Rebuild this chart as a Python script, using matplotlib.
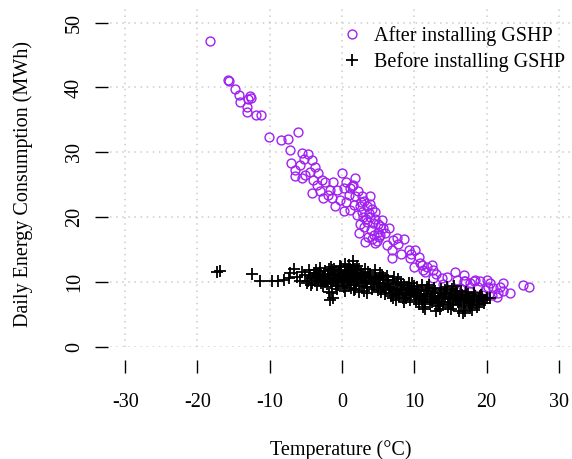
import matplotlib
matplotlib.use('Agg')
import matplotlib.pyplot as plt

plt.rcParams['font.family'] = ['Liberation Serif', 'DejaVu Serif']
plt.rcParams['axes.unicode_minus'] = False

# After installing GSHP (purple circles)
after_temp = [-18.2, -15.8, -15.6, -14.8, -14.2, -12.8, -12.6, -13.0, -14.1, -13.1,
              -13.2, -11.9, -11.2, -10.1, -8.5, -7.5, -6.1, -7.2, -5.6, -4.7,
              -4.2, -7.0, -5.8, -6.5, -5.1, -6.5, -5.6, -3.7, -3.3, -2.8,
              -4.0, -4.2, -2.4, -1.2, 0.0, 1.8, -2.6, -1.7, -0.7, 0.2,
              1.1, -1.4, -0.3, 0.6, 1.8, 2.7, 1.6, 2.5, 3.4, 1.1,
              2.0, 2.9, 3.9, 3.4, 4.3, 5.3, 5.7, 2.3, 3.6, 4.8,
              6.2, 7.1, 7.6, 8.5, 5.3, 4.6, 6.9, 6.9, 9.2, 10.1,
              9.4, 10.6, 9.9, 11.0, 11.7, 12.4, 11.5, 12.6, 12.6, 13.8,
              15.6, 15.9, 15.6, 16.8, 17.7, 18.4, 19.1, 20.0, 19.8, 16.3,
              16.8, 17.0, 18.2, 20.2, 20.9, 21.8, 22.3, 20.7, 21.6, 21.4,
              23.2, 25.0, 25.8, -3.0, -2.0, 0.5, 1.5, 2.2, 3.0, 3.8,
              4.5, 4.0, 5.0, 3.0, 2.5, 4.6, 5.5, 6.0, 3.2, -1.0,
              0.2, -4.5, -5.2, -3.5, 1.0, 2.8, 6.5, 7.8, 8.2, 9.6,
              10.8, 11.2, 13.0, 14.5, 14.0, 17.5, 18.8, 19.4, 22.2, 20.4,
              3.7, 4.1, 4.4, 3.3, 4.9, 2.6, 5.1, 4.2, 3.9, 1.4]
after_energy = [47.2, 41.2, 41.0, 39.8, 38.9, 38.7, 38.4, 38.2, 37.7, 37.0,
                36.2, 35.7, 35.7, 32.4, 31.9, 32.1, 33.2, 30.4, 29.9, 29.8,
                28.9, 28.3, 28.1, 27.3, 26.5, 26.3, 26.0, 27.8, 26.8, 25.8,
                25.8, 23.7, 25.5, 25.5, 26.8, 26.0, 22.9, 24.2, 24.2, 24.5,
                24.5, 22.9, 22.7, 22.4, 23.2, 23.2, 21.9, 21.7, 21.7, 21.1,
                20.4, 20.1, 20.1, 19.3, 19.1, 18.6, 18.3, 17.5, 17.0, 16.3,
                15.7, 16.5, 16.8, 16.6, 17.3, 16.0, 15.0, 13.7, 15.0, 15.0,
                13.7, 13.9, 12.4, 12.7, 12.4, 12.7, 11.6, 11.9, 10.6, 10.6,
                11.6, 10.3, 8.8, 10.1, 9.8, 10.3, 10.1, 10.3, 8.8, 9.1,
                11.1, 10.1, 10.1, 9.3, 9.1, 9.3, 9.8, 8.0, 8.3, 7.7,
                8.4, 9.6, 9.3, 24.0, 23.5, 25.5, 25.0, 24.0, 22.5, 22.0,
                20.8, 18.0, 17.8, 18.5, 19.0, 19.8, 19.5, 17.5, 16.2, 21.8,
                21.0, 27.0, 29.0, 25.0, 23.5, 20.8, 18.3, 15.8, 14.3, 14.3,
                13.0, 11.8, 11.3, 10.8, 9.7, 8.7, 9.2, 8.0, 8.6, 9.9,
                20.6, 21.3, 17.2, 19.8, 18.9, 22.3, 16.9, 16.6, 23.3, 24.8]

# Before installing GSHP (black plus signs)
before_temp = [-17.3, -16.9, -12.5, -11.3, -9.7, -8.8, -8.1, -7.4, -6.7, -7.2,
               -5.8, -5.1, -4.9, -6.2, -5.5,
               -4.7, -4.4, -4.6, -4.3,
               -4.2, -3.9, -4.1, -3.8,
               -3.7, -3.4, -3.6, -3.3, -3.5,
               -3.2, -2.9, -3.1, -2.8, -3.0,
               -2.7, -2.4, -2.6, -2.3, -2.5,
               -2.2, -1.9, -2.1, -1.8, -2.0,
               -1.7, -1.8, -1.4, -1.2,
               -1.7, -1.4, -1.6, -1.3, -1.5,
               -1.2, -0.9, -1.1, -0.8, -1.0,
               -0.7, -0.4, -0.6, -0.3, -0.5, -0.65,
               -0.2, 0.1, -0.1, 0.2, 0.0, -0.15,
               0.3, 0.6, 0.4, 0.7, 0.5, 0.35,
               0.8, 1.1, 0.9, 1.2, 1.0, 0.85,
               1.5, 1.6, 1.4, 1.7, 1.5, 1.35, 1.65,
               1.8, 2.1, 1.9, 2.2, 2.0, 1.85,
               2.3, 2.6, 2.4, 2.7, 2.5, 2.35,
               2.8, 3.1, 2.9, 3.2, 3.0, 2.85,
               3.3, 3.6, 3.4, 3.7, 3.5,
               3.8, 4.1, 3.9, 4.2, 4.0,
               4.3, 4.6, 4.4, 4.7, 4.5,
               4.8, 5.1, 4.9, 5.2, 5.0,
               5.3, 5.6, 5.4, 5.7, 5.5,
               5.8, 6.1, 5.9, 6.2, 6.0,
               6.3, 6.6, 6.4, 6.7, 6.5,
               6.8, 7.1, 6.9, 7.2, 7.0,
               7.3, 7.6, 7.4, 7.7, 7.5,
               7.8, 8.1, 7.9, 8.2, 8.0,
               8.3, 8.6, 8.4, 8.7, 8.5,
               8.8, 9.1, 8.9, 9.2, 9.0,
               9.3, 9.6, 9.4, 9.7, 9.5,
               9.8, 10.1, 9.9, 10.2, 10.0,
               10.3, 10.6, 10.4, 10.7, 10.5,
               10.8, 11.1, 10.9, 11.2, 11.0,
               11.3, 11.6, 11.4, 11.7, 11.5,
               11.8, 12.1, 11.9, 12.2, 12.0,
               12.3, 12.6, 12.4, 12.7, 12.5,
               12.8, 13.1, 12.9, 13.2, 13.0,
               13.3, 13.6, 13.4, 13.7, 13.5,
               13.8, 14.1, 13.9, 14.2, 14.0,
               14.3, 14.6, 14.4, 14.7, 14.5,
               14.8, 15.1, 14.9, 15.2, 15.0,
               15.3, 15.6, 15.4, 15.7, 15.5,
               15.8, 16.1, 15.9, 16.2, 16.0,
               16.3, 16.6, 16.4, 16.7, 16.5,
               16.8, 17.1, 16.9, 17.2, 17.0,
               17.3, 17.6, 17.4, 17.7, 17.5,
               17.8, 18.1, 17.9, 18.2, 18.0,
               18.3, 18.6, 18.4, 18.7,
               18.8, 19.1, 18.9, 19.2,
               19.3, 19.6, 19.4,
               19.8, 20.1,
               20.4,
               0.45, 1.25, 2.05, 0.95, 1.75, 2.55, 3.35, -0.35, 0.15, 1.45]
before_energy = [11.5, 11.7, 11.3, 10.1, 10.1, 10.1, 10.3, 10.6, 12.1, 11.4,
                 10.1, 11.1, 9.8, 10.8, 11.6,
                 10.2, 11.0, 11.8, 9.6,
                 10.6, 11.4, 9.9, 10.9,
                 10.1, 11.2, 11.9, 10.5, 9.5,
                 10.8, 9.8, 11.5, 10.3, 12.2,
                 11.0, 10.0, 9.4, 11.7, 10.6,
                 10.4, 11.3, 9.7, 12.0, 10.9,
                 7.3, 8.5, 8.3, 7.5,
                 10.7, 11.8, 9.9, 10.2, 12.4,
                 11.1, 10.0, 12.1, 9.4, 10.6,
                 10.5, 11.6, 9.6, 12.5, 10.9, 8.9,
                 11.0, 10.1, 12.3, 9.2, 10.6, 11.7,
                 10.4, 11.5, 12.8, 9.5, 10.9, 8.6,
                 11.2, 10.0, 12.6, 9.1, 10.7, 11.9,
                 13.2, 10.5, 11.6, 9.6, 12.3, 10.9, 8.8,
                 11.0, 12.5, 9.9, 10.4, 11.8, 9.0,
                 10.6, 11.4, 12.1, 9.4, 10.0, 8.5,
                 11.1, 9.8, 10.5, 12.0, 8.7, 10.9,
                 10.2, 11.5, 9.3, 10.8, 8.4,
                 10.7, 9.7, 11.2, 8.9, 10.1,
                 10.0, 11.0, 9.2, 10.5, 11.8,
                 9.6, 10.6, 8.8, 11.4, 9.9,
                 9.8, 10.8, 8.5, 9.3, 11.1,
                 9.4, 10.3, 8.2, 10.9, 9.0,
                 9.7, 8.8, 10.4, 7.9, 9.2,
                 9.1, 10.2, 8.4, 10.8, 7.6,
                 8.9, 9.8, 8.1, 10.5, 7.2,
                 8.6, 9.5, 7.8, 10.0, 9.0,
                 8.8, 9.6, 7.5, 8.2, 6.9,
                 8.4, 9.3, 7.6, 9.9, 8.0,
                 8.1, 9.0, 7.3, 9.8, 8.6,
                 8.5, 7.9, 9.4, 7.0, 8.9,
                 8.2, 7.5, 9.2, 6.7, 8.7,
                 8.0, 7.3, 8.8, 6.2, 9.6,
                 7.8, 8.6, 7.0, 9.3, 5.8,
                 8.1, 7.4, 8.9, 6.6, 9.5,
                 7.7, 8.4, 6.9, 9.1, 7.2,
                 7.9, 7.1, 8.6, 6.3, 5.5,
                 7.6, 8.3, 6.8, 9.0, 5.9,
                 7.4, 8.1, 6.5, 8.8, 7.0,
                 7.8, 7.0, 8.5, 6.2, 9.2,
                 7.5, 8.2, 6.7, 8.9, 5.8,
                 7.2, 7.9, 6.4, 8.6, 9.4,
                 7.6, 6.9, 8.3, 5.6, 7.3,
                 7.4, 8.0, 6.6, 5.3, 8.7,
                 7.1, 7.8, 6.3, 8.5, 5.5,
                 7.5, 6.8, 8.1, 6.0, 7.2,
                 7.0, 7.7, 6.4, 8.3, 5.7,
                 7.3, 6.6, 7.9, 6.1,
                 7.1, 7.8, 6.5, 8.0,
                 7.4, 6.8, 7.7,
                 7.2, 7.6,
                 7.5,
                 11.3, 11.8, 10.7, 10.3, 12.0, 11.0, 9.9, 11.3, 9.8, 12.0]

x_ticks = [-30, -20, -10, 0, 10, 20, 30]
y_ticks = [0, 10, 20, 30, 40, 50]

fig = plt.figure(figsize=(5.72, 4.59), dpi=100)
ax = fig.add_axes([110 / 572, 1 - 347 / 459, 462 / 572, 338 / 459])

ax.set_xlim(-32.1, 31.8)
ax.set_ylim(0, 52.1)
ax.set_xticks(x_ticks)
ax.set_yticks(y_ticks)
ax.grid(True, color='#cccccc', linestyle=(0, (1, 3)), linewidth=1.1)
ax.set_axisbelow(True)

ax.plot(after_temp, after_energy, 'o', mfc='none', mec='#A020F0', ms=6.4, mew=1.0,
        label='After installing GSHP', clip_on=False)
ax.plot(before_temp, before_energy, '+', color='black', ms=8.2, mew=1.3,
        label='Before installing GSHP', clip_on=False)

for s in ax.spines.values():
    s.set_visible(False)
ax.spines['left'].set_position(('outward', 1.5))
ax.spines['bottom'].set_position(('outward', 9.4))
ax.tick_params(axis='both', direction='out', length=9.4, width=1.0, labelsize=14.5)
ax.tick_params(axis='y', labelrotation=90, pad=8)
ax.tick_params(axis='x', pad=14)
for lbl in ax.get_yticklabels():
    lbl.set_va('center')

fig.text(23 / 572, 1 - 184 / 459, 'Daily Energy Consumption (MWh)', rotation=90,
         ha='center', va='center', fontsize=14.5)
fig.text(341 / 572, 1 - 450 / 459, 'Temperature (°C)', ha='center', va='center',
         fontsize=14.5)

ax.legend(loc='upper left', bbox_to_anchor=(342 / 572, 1 - 26 / 459),
          bbox_transform=fig.transFigure, frameon=False, fontsize=14.5,
          handlelength=1.0, handletextpad=0.6, labelspacing=0.3, borderpad=0,
          borderaxespad=0)

fig.savefig('out.png', dpi=100)
